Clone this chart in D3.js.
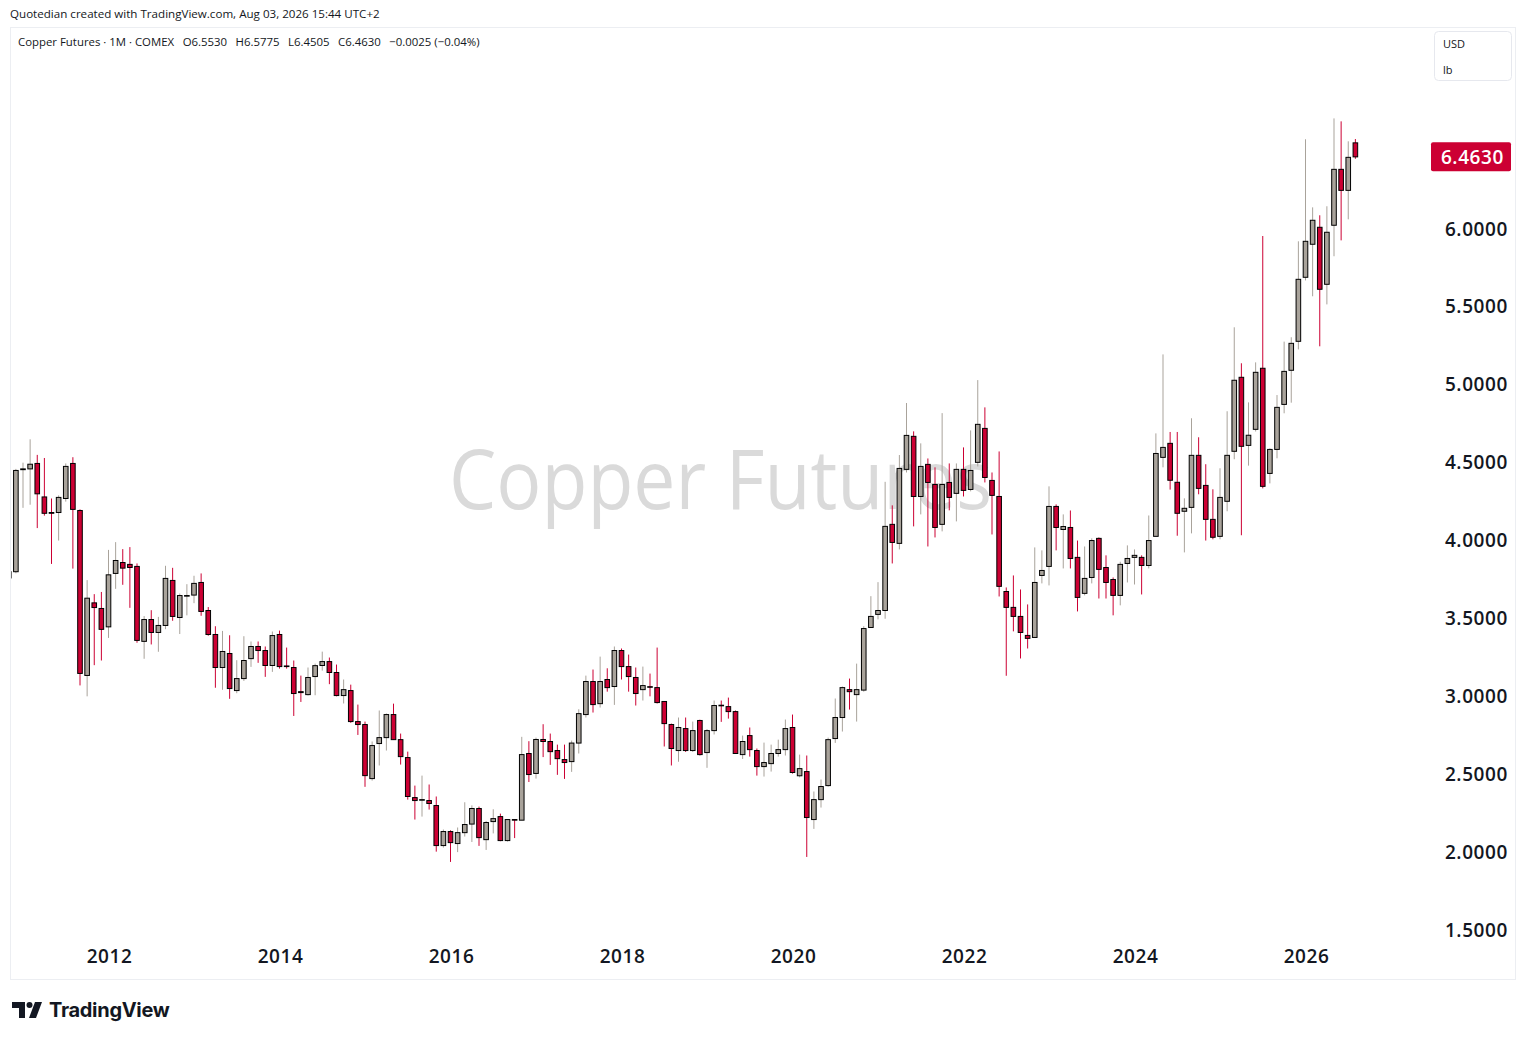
<!DOCTYPE html>
<html>
<head>
<meta charset="utf-8">
<script src="https://cdn.jsdelivr.net/npm/d3@7"></script>
<style>
  body { margin: 0; background: #fff; }
  svg { display: block; }
</style>
</head>
<body>
<script>
// copper futures, monthly bars, Nov 2010 .. Aug 2026
var firstMonth = new Date(2010, 10, 1);
var lastMonth = new Date(2026, 7, 1);

var open = [
  3.76, 3.80,
  4.455, 4.46, 4.495, 4.28, 4.18, 4.18, 4.27, 4.495, 4.193, 3.134, 3.60, 3.564,
  3.446, 3.789, 3.859, 3.847, 3.834, 3.353, 3.493, 3.41, 3.455, 3.744, 3.506, 3.645,
  3.65, 3.731, 3.551, 3.397, 3.185, 3.275, 3.037, 3.114, 3.242, 3.32, 3.294, 3.198,
  3.397, 3.195, 3.185, 3.03, 3.011, 3.127, 3.198, 3.223, 3.153, 3.005, 3.037, 2.838,
  2.819, 2.472, 2.697, 2.735, 2.883, 2.722, 2.607, 2.35, 2.335, 2.331, 2.299, 2.042,
  2.132, 2.055, 2.125, 2.18, 2.28, 2.08, 2.196, 2.228, 2.074, 2.209, 2.205, 2.633,
  2.505, 2.723, 2.71, 2.652, 2.594, 2.581, 2.70, 2.883, 3.095, 2.953, 3.108, 3.063,
  3.294, 3.191, 3.121, 3.043, 3.062, 3.056, 2.967, 2.819, 2.652, 2.793, 2.652, 2.845,
  2.639, 2.78, 2.943, 2.934, 2.902, 2.626, 2.748, 2.652, 2.549, 2.568, 2.633, 2.658,
  2.80, 2.49, 2.517, 2.209, 2.337, 2.427, 2.729, 2.864, 3.043, 3.011, 3.04, 3.442,
  3.526, 3.551, 4.104, 3.982, 4.457, 4.669, 4.283, 4.489, 4.36, 4.104, 4.373, 4.303,
  4.457, 4.328, 4.502, 4.72, 4.386, 4.283, 3.673, 3.571, 3.513, 3.391, 3.378, 3.776,
  3.834, 4.219, 4.071, 4.084, 3.892, 3.661, 3.763, 4.014, 3.827, 3.75, 3.648, 3.853,
  3.892, 3.892, 3.84, 4.027, 4.534, 4.624, 4.374, 4.188, 4.213, 4.547, 4.354, 4.136,
  4.027, 4.252, 4.573, 5.048, 4.611, 4.714, 5.106, 4.431, 4.585, 4.874, 5.093, 5.279,
  5.69, 5.902, 6.011, 5.645, 6.024, 6.383, 6.248, 6.553
];
var high = [
  3.95, 4.46,
  4.50, 4.65, 4.55, 4.53, 4.27, 4.29, 4.495, 4.535, 4.20, 3.746, 3.656, 3.67,
  3.94, 3.99, 3.945, 3.958, 3.853, 3.515, 3.553, 3.51, 3.838, 3.825, 3.66, 3.72,
  3.774, 3.789, 3.573, 3.45, 3.42, 3.392, 3.232, 3.386, 3.352, 3.352, 3.32, 3.416,
  3.422, 3.313, 3.23, 3.133, 3.185, 3.21, 3.287, 3.249, 3.204, 3.108, 3.075, 2.947,
  2.838, 2.71, 2.909, 2.89, 2.953, 2.761, 2.645, 2.427, 2.491, 2.434, 2.357, 2.145,
  2.14, 2.158, 2.32, 2.30, 2.292, 2.20, 2.275, 2.247, 2.21, 2.21, 2.74, 2.712,
  2.735, 2.821, 2.761, 2.69, 2.69, 2.716, 2.917, 3.133, 3.172, 3.255, 3.18, 3.32,
  3.307, 3.268, 3.185, 3.191, 3.146, 3.313, 2.97, 2.825, 2.864, 2.864, 2.838, 2.85,
  2.79, 2.973, 2.973, 2.992, 2.909, 2.748, 2.80, 2.665, 2.703, 2.69, 2.722, 2.851,
  2.883, 2.626, 2.62, 2.389, 2.466, 2.735, 2.986, 3.063, 3.114, 3.21, 3.45, 3.643,
  3.733, 4.377, 4.226, 4.549, 4.883, 4.701, 4.624, 4.527, 4.47, 4.818, 4.495, 4.495,
  4.598, 4.707, 5.03, 4.855, 4.437, 4.572, 3.699, 3.776, 3.686, 3.59, 3.956, 3.937,
  4.348, 4.232, 4.168, 4.193, 4.0, 3.962, 4.014, 4.02, 3.905, 3.763, 3.864, 3.969,
  3.943, 3.905, 4.161, 4.688, 5.195, 4.697, 4.697, 4.271, 4.785, 4.663, 4.49, 4.329,
  4.464, 4.83, 5.369, 5.138, 4.887, 5.144, 5.955, 4.592, 4.934, 5.277, 5.305, 5.921,
  6.576, 6.139, 6.088, 6.146, 6.71, 6.691, 6.563, 6.5775
];
var low = [
  3.72, 3.79,
  4.21, 4.23, 4.08, 4.16, 3.85, 4.00, 4.25, 3.82, 3.07, 3.00, 3.20, 3.23,
  3.375, 3.69, 3.716, 3.568, 3.344, 3.241, 3.333, 3.286, 3.431, 3.485, 3.40, 3.52,
  3.598, 3.517, 3.389, 3.055, 3.042, 2.984, 3.02, 3.099, 3.189, 3.215, 3.125, 3.157,
  3.178, 3.178, 2.874, 2.964, 3.005, 3.007, 3.165, 3.078, 3.0, 2.954, 2.83, 2.752,
  2.419, 2.459, 2.556, 2.652, 2.72, 2.562, 2.337, 2.209, 2.228, 2.273, 2.003, 2.029,
  1.937, 2.0, 2.10, 2.065, 2.04, 2.014, 2.12, 2.07, 2.068, 2.09, 2.205, 2.45,
  2.472, 2.61, 2.56, 2.496, 2.47, 2.515, 2.633, 2.864, 2.896, 2.928, 3.03, 2.945,
  3.108, 3.03, 2.941, 2.973, 3.0, 2.954, 2.678, 2.556, 2.58, 2.643, 2.643, 2.62,
  2.541, 2.755, 2.836, 2.857, 2.63, 2.598, 2.613, 2.491, 2.485, 2.517, 2.613, 2.62,
  2.504, 2.48, 1.969, 2.149, 2.286, 2.42, 2.701, 2.774, 2.915, 2.838, 3.03, 3.44,
  3.494, 3.498, 3.853, 3.943, 4.437, 4.091, 4.168, 3.962, 4.02, 4.059, 4.194, 4.123,
  4.283, 4.316, 4.476, 4.373, 4.039, 3.641, 3.132, 3.417, 3.243, 3.307, 3.378, 3.725,
  3.712, 3.937, 3.821, 3.821, 3.545, 3.648, 3.725, 3.628, 3.628, 3.52, 3.584, 3.731,
  3.718, 3.654, 3.821, 4.027, 4.47, 4.327, 4.031, 3.924, 4.046, 4.297, 4.0, 4.008,
  4.008, 4.188, 4.522, 4.034, 4.481, 4.70, 4.335, 4.367, 4.528, 4.817, 4.885, 5.227,
  5.67, 5.568, 5.247, 5.516, 5.825, 5.927, 6.062, 6.4505
];
var close = [
  3.80, 4.45,
  4.46, 4.49, 4.30, 4.175, 4.175, 4.277, 4.476, 4.20, 3.147, 3.63, 3.57, 3.43,
  3.78, 3.872, 3.823, 3.827, 3.359, 3.493, 3.41, 3.455, 3.757, 3.513, 3.647, 3.647,
  3.725, 3.545, 3.397, 3.185, 3.288, 3.05, 3.114, 3.23, 3.32, 3.294, 3.198, 3.39,
  3.191, 3.191, 3.018, 3.024, 3.121, 3.197, 3.223, 3.153, 3.005, 3.043, 2.838, 2.819,
  2.491, 2.684, 2.735, 2.883, 2.722, 2.613, 2.357, 2.331, 2.337, 2.312, 2.042, 2.132,
  2.061, 2.125, 2.177, 2.28, 2.093, 2.19, 2.215, 2.074, 2.209, 2.205, 2.626, 2.498,
  2.723, 2.71, 2.645, 2.60, 2.575, 2.70, 2.889, 3.095, 2.947, 3.095, 3.056, 3.294,
  3.191, 3.127, 3.018, 3.069, 3.06, 2.96, 2.825, 2.665, 2.80, 2.652, 2.78, 2.626,
  2.78, 2.941, 2.939, 2.902, 2.633, 2.71, 2.658, 2.549, 2.575, 2.633, 2.658, 2.793,
  2.511, 2.536, 2.222, 2.337, 2.421, 2.722, 2.864, 3.056, 3.03, 3.043, 3.435, 3.513,
  3.551, 4.091, 3.988, 4.463, 4.675, 4.283, 4.476, 4.373, 4.084, 4.36, 4.277, 4.457,
  4.322, 4.45, 4.746, 4.405, 4.29, 3.706, 3.571, 3.513, 3.41, 3.372, 3.731, 3.808,
  4.219, 4.084, 4.09, 3.885, 3.635, 3.757, 4.0, 3.815, 3.731, 3.648, 3.847, 3.885,
  3.905, 3.84, 4.0, 4.559, 4.598, 4.387, 4.175, 4.207, 4.547, 4.335, 4.136, 4.021,
  4.277, 4.547, 5.029, 4.605, 4.676, 5.08, 4.348, 4.585, 4.855, 5.086, 5.266, 5.677,
  5.921, 6.056, 5.613, 5.979, 6.383, 6.248, 6.46, 6.463
];

var priceTicks = [1.5, 2, 2.5, 3, 3.5, 4, 4.5, 5, 5.5, 6];
var yearTicks = ["2012", "2014", "2016", "2018", "2020", "2022", "2024", "2026"];

var headerText = "Quotedian created with TradingView.com, Aug 03, 2026 15:44 UTC+2";
var legendText = "Copper Futures \u00b7 1M \u00b7 COMEX";
var legendOHLC = ["O6.5530", "H6.5775", "L6.4505", "C6.4630", "\u22120.0025 (\u22120.04%)"];
var lastPrice = 6.463;

var fmtKey = d3.timeFormat("%Y-%m");
var months = d3.timeMonth.range(firstMonth, d3.timeMonth.offset(lastMonth, 1)).map(fmtKey);

var bars = months.map(function(m, i) {
  return { month: m, o: open[i], h: high[i], l: low[i], c: close[i] };
});

var W = 1526, H = 1040;
var upFill = "#a9a39b", downFill = "#cc0033";
var font = "'Open Sans', 'DejaVu Sans', sans-serif";

var svg = d3.select("body").append("svg")
  .attr("width", W)
  .attr("height", H);

// chart frame
svg.append("rect")
  .attr("x", 10.5).attr("y", 27.5)
  .attr("width", 1505).attr("height", 952)
  .attr("fill", "none")
  .attr("stroke", "#eceef2");

// scales: one band per month, Jan 2012 lands at x ~108.5
var step = 7.125;
var x0 = 108.5 - 14.5 * step;
var x = d3.scaleBand()
  .domain(months)
  .range([x0, x0 + months.length * step])
  .padding(0);

var y = d3.scaleLinear()
  .domain([1.5, 6])
  .range([930, 229]);

svg.append("defs").append("clipPath").attr("id", "plot")
  .append("rect").attr("x", 11).attr("y", 28).attr("width", 1420).attr("height", 951);

// watermark behind the candles
svg.append("text")
  .attr("x", 449).attr("y", 509)
  .attr("textLength", 543)
  .attr("lengthAdjust", "spacingAndGlyphs")
  .style("font-family", font)
  .style("font-size", "82px")
  .attr("fill", "#dadada")
  .text("Copper Futures");

var plot = svg.append("g").attr("clip-path", "url(#plot)");

function cx(d) { return x(d.month) + x.bandwidth() / 2; }
function isUp(d) { return d.c >= d.o; }

// wicks
plot.selectAll(".wick")
  .data(bars)
  .enter()
  .append("line")
  .attr("class", "wick")
  .attr("x1", cx).attr("x2", cx)
  .attr("y1", function(d) { return y(d.h); })
  .attr("y2", function(d) { return y(d.l); })
  .attr("stroke", function(d) { return isUp(d) ? upFill : downFill; })
  .attr("stroke-width", 1);

// bodies
var bw = 4.6;
plot.selectAll(".body")
  .data(bars)
  .enter()
  .append("rect")
  .attr("class", "body")
  .attr("x", function(d) { return cx(d) - bw / 2; })
  .attr("y", function(d) { return y(Math.max(d.o, d.c)); })
  .attr("width", bw)
  .attr("height", function(d) { return Math.max(0.6, Math.abs(y(d.o) - y(d.c))); })
  .attr("fill", function(d) { return isUp(d) ? upFill : downFill; })
  .attr("stroke", "#000")
  .attr("stroke-width", 1);

// price axis on the right
var yAxis = svg.append("g")
  .attr("transform", "translate(1508,0)")
  .call(d3.axisRight(y).tickValues(priceTicks).tickFormat(d3.format(".4f")).tickSize(0));
yAxis.select(".domain").remove();
yAxis.selectAll("text")
  .attr("x", 0)
  .attr("text-anchor", "end")
  .style("font-family", font)
  .style("font-size", "19px")
  .style("font-weight", 600)
  .style("letter-spacing", "0.6px")
  .attr("fill", "#131722");

// years along the bottom
var xAxis = svg.append("g")
  .attr("transform", "translate(" + (x.bandwidth() / 2 - 2.5) + ",949)")
  .call(d3.axisBottom(x)
    .tickValues(yearTicks.map(function(yr) { return yr + "-01"; }))
    .tickFormat(function(d) { return d.slice(0, 4); })
    .tickSize(0));
xAxis.select(".domain").remove();
xAxis.selectAll("text")
  .attr("y", 0)
  .attr("dy", "0.71em")
  .style("font-family", font)
  .style("font-size", "19px")
  .style("font-weight", 600)
  .style("letter-spacing", "0.6px")
  .attr("fill", "#131722");

// last price tag
svg.append("rect")
  .attr("x", 1431).attr("y", y(lastPrice) - 14.5)
  .attr("width", 80).attr("height", 29)
  .attr("rx", 2)
  .attr("fill", downFill);
svg.append("text")
  .attr("x", 1504).attr("y", y(lastPrice))
  .attr("dy", "0.36em")
  .attr("text-anchor", "end")
  .style("font-family", font)
  .style("font-size", "19px")
  .style("font-weight", 600)
  .style("letter-spacing", "0.6px")
  .attr("fill", "#fff")
  .text(lastPrice.toFixed(4));

// currency / unit box
svg.append("rect")
  .attr("x", 1434.5).attr("y", 31.5)
  .attr("width", 77).attr("height", 49)
  .attr("rx", 4)
  .attr("fill", "#fff")
  .attr("stroke", "#e6e8ee");
svg.append("text").attr("x", 1443).attr("y", 48)
  .style("font-family", font).style("font-size", "11px").attr("fill", "#131722").text("USD");
svg.append("text").attr("x", 1443).attr("y", 74)
  .style("font-family", font).style("font-size", "11px").attr("fill", "#131722").text("lb");

// header line
svg.append("text")
  .attr("x", 10).attr("y", 18)
  .style("font-family", font)
  .style("font-size", "11.6px")
  .attr("fill", "#131722")
  .text(headerText);

// legend row
var leg = svg.append("text")
  .attr("x", 18).attr("y", 46)
  .style("font-family", font)
  .style("font-size", "11.4px")
  .attr("fill", "#131722");
leg.append("tspan").text(legendText);
legendOHLC.forEach(function(t) {
  leg.append("tspan").attr("dx", 8.5).text(t);
});

// TradingView logo, bottom left
var logo = svg.append("g").attr("fill", "#131722");
logo.append("path").attr("d", "M12,1002 H25 V1018 H19 V1008 H12 Z");
logo.append("circle").attr("cx", 29.5).attr("cy", 1005).attr("r", 3);
logo.append("path").attr("d", "M35,1002 H42 L36,1018 H29 Z");
svg.append("text")
  .attr("x", 49).attr("y", 1017)
  .style("font-family", "'Inter', 'Roboto', sans-serif")
  .style("font-size", "20px")
  .style("font-weight", 700)
  .style("letter-spacing", "-0.3px")
  .attr("fill", "#131722")
  .text("TradingView");
</script>
</body>
</html>
